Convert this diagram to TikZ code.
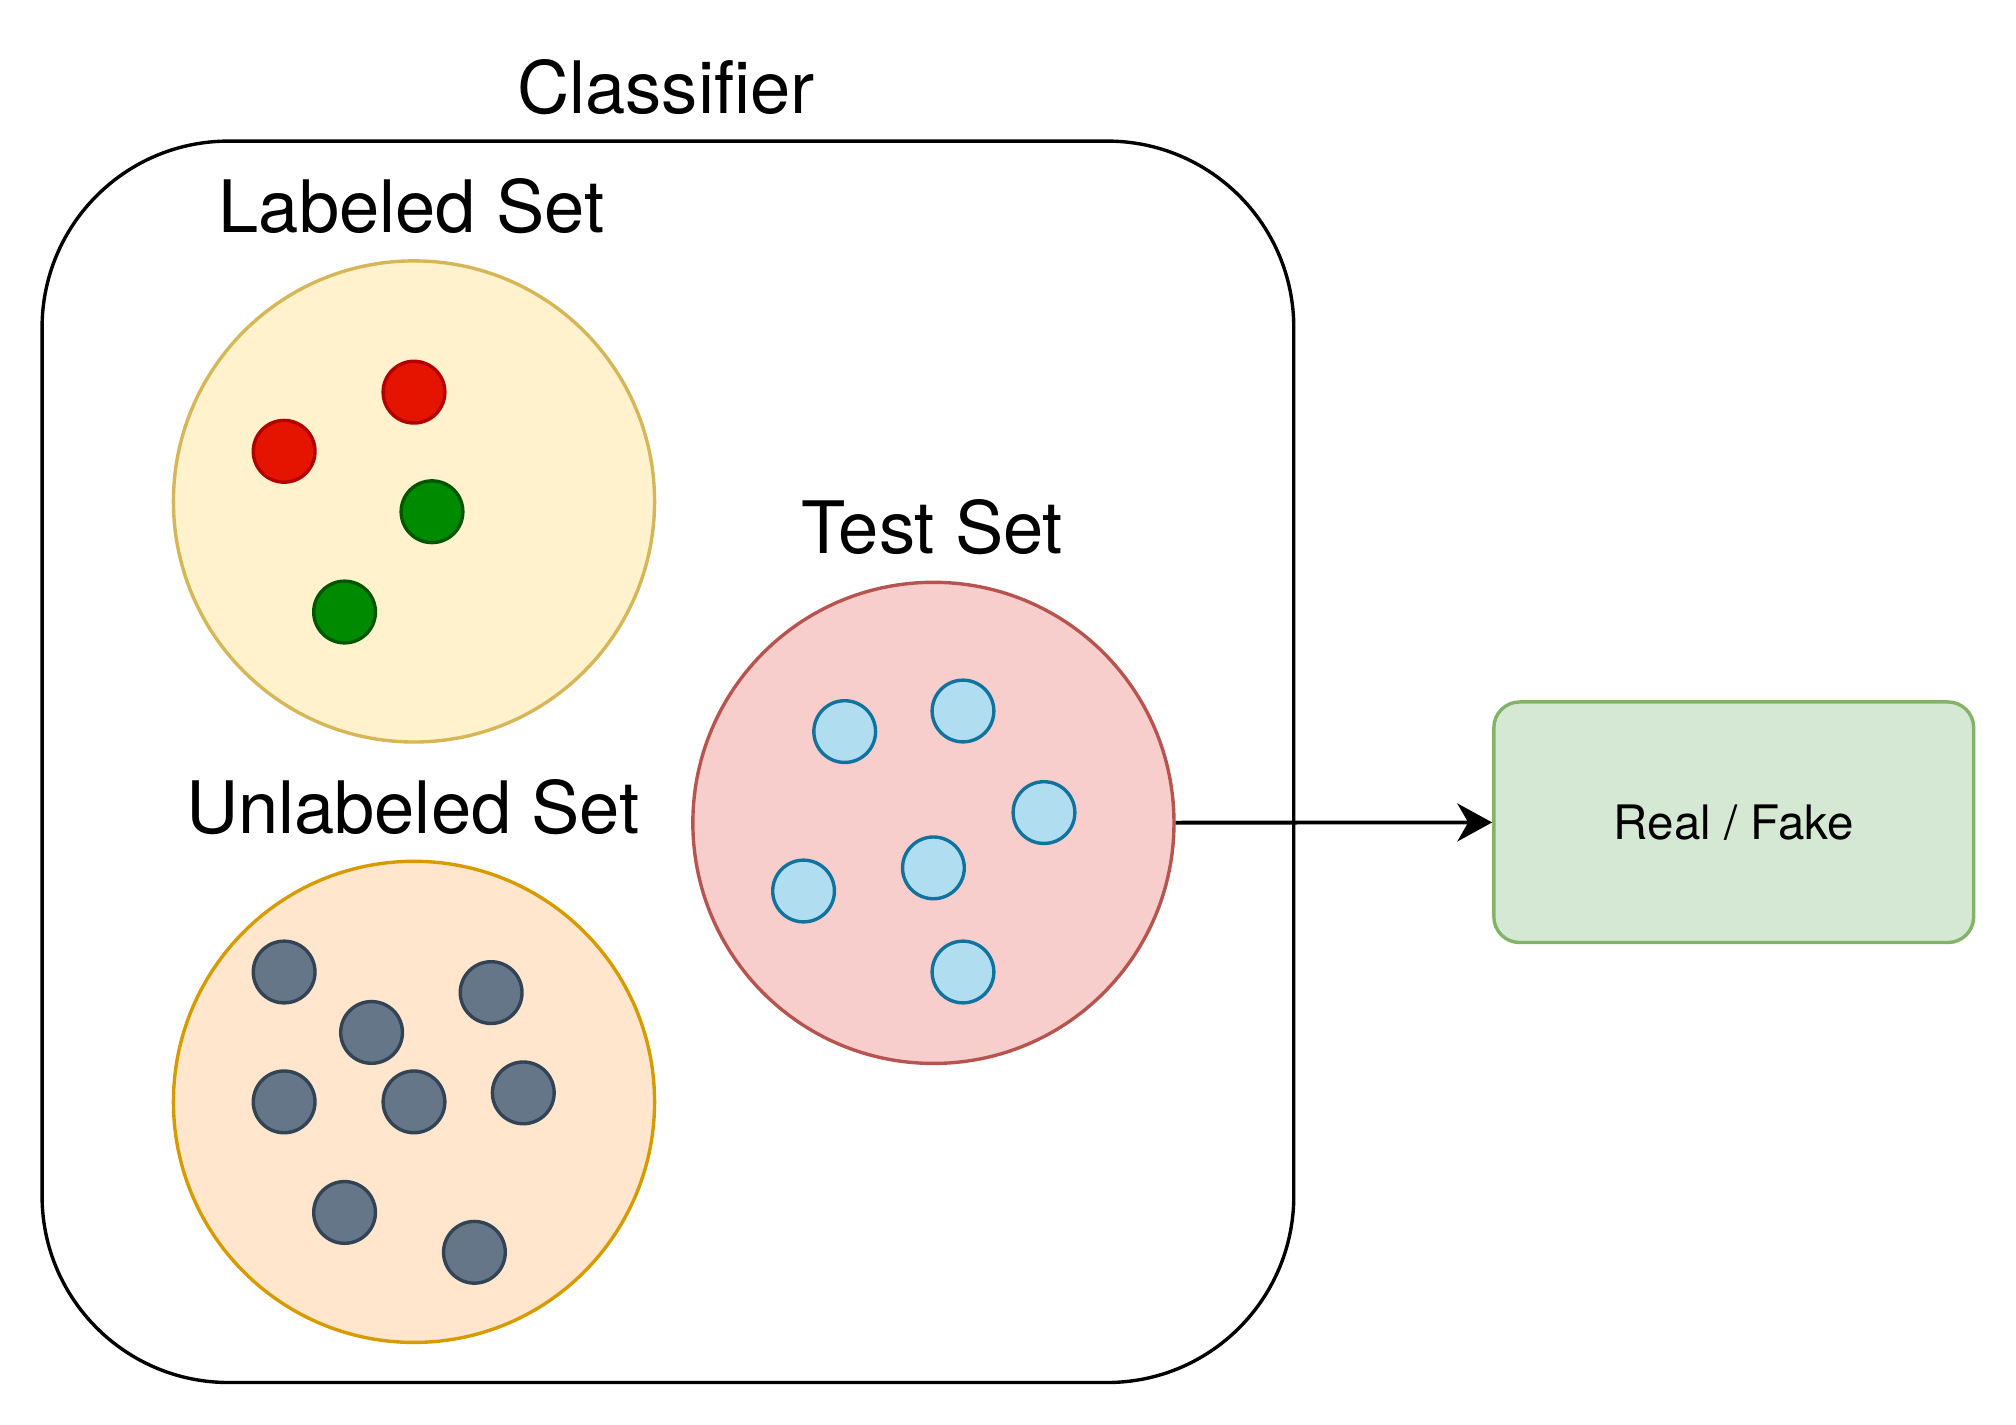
\documentclass[tikz,border=0pt]{standalone}
\usepackage{fontspec}
\setmainfont{TeX Gyre Heros}
\usetikzlibrary{shapes.geometric, arrows.meta}

\definecolor{yellowfill}{HTML}{FFF2CC}
\definecolor{yellowline}{HTML}{D6B656}
\definecolor{orangefill}{HTML}{FFE6CC}
\definecolor{orangeline}{HTML}{D79B00}
\definecolor{redfill}{HTML}{F8CECC}
\definecolor{redline}{HTML}{B85450}
\definecolor{greenfill}{HTML}{D5E8D4}
\definecolor{greenline}{HTML}{82B366}
\definecolor{reddotfill}{HTML}{E51400}
\definecolor{reddotline}{HTML}{B20000}
\definecolor{greendotfill}{HTML}{008A00}
\definecolor{greendotline}{HTML}{005700}
\definecolor{bluedotfill}{HTML}{B1DDF0}
\definecolor{bluedotline}{HTML}{10739E}
\definecolor{graydotfill}{HTML}{647687}
\definecolor{graydotline}{HTML}{314354}

\begin{document}
\begin{tikzpicture}[x=0.01cm, y=-0.01cm]
\tikzstyle{set} = [circle, minimum size=3.74cm, line width=0.75pt]
\tikzstyle{dot} = [circle, minimum size=0.48cm, inner sep=0pt, line width=0.75pt]
\tikzstyle{title} = [font=\fontsize{16}{19}\selectfont]
\tikzstyle{arrow} = [line width=0.85pt,-{Stealth[length=7.7pt, width=8.4pt, inset=2.4pt]}]
\useasboundingbox (0,0) rectangle (1568,1108);

% Nodes
\node (classifier) [rectangle, rounded corners=1.45cm, draw=black, line width=0.75pt, minimum width=9.73cm, minimum height=9.65cm] at (519.5,592.5) {};
\node (classifiertitle) [title] at (518,68) {Classifier};

\node (labeled) [set, draw=yellowline, fill=yellowfill] at (322,390) {};
\node (labeledtitle) [title] at (320,160) {Labeled Set};
\node (unlabeled) [set, draw=orangeline, fill=orangefill] at (322,857) {};
\node (unlabeledtitle) [title] at (321,628) {Unlabeled Set};
\node (test) [set, draw=redline, fill=redfill] at (726,640) {};
\node (testtitle) [title] at (725,410) {Test Set};

\node (result) [rectangle, rounded corners=0.2cm, draw=greenline, fill=greenfill, line width=0.75pt, minimum width=3.73cm, minimum height=1.87cm, font=\fontsize{10.5}{13}\selectfont] at (1348.5,639.5) {Real / Fake};

% Dots
\foreach \x/\y [count=\i] in {322/305, 221/351}
  \node (r\i) [dot, draw=reddotline, fill=reddotfill] at (\x,\y) {};
\foreach \x/\y [count=\i] in {336/398, 268/476}
  \node (g\i) [dot, draw=greendotline, fill=greendotfill] at (\x,\y) {};
\foreach \x/\y [count=\i] in {657/569, 749/553, 812/632, 726/675, 625/693, 749/756}
  \node (b\i) [dot, draw=bluedotline, fill=bluedotfill] at (\x,\y) {};
\foreach \x/\y [count=\i] in {221/756, 382/772, 289/803, 221/857, 322/857, 407/850, 268/943, 369/974}
  \node (u\i) [dot, draw=graydotline, fill=graydotfill] at (\x,\y) {};

% Arrows
\draw [arrow] (test) -- (result);

\end{tikzpicture}
\end{document}
